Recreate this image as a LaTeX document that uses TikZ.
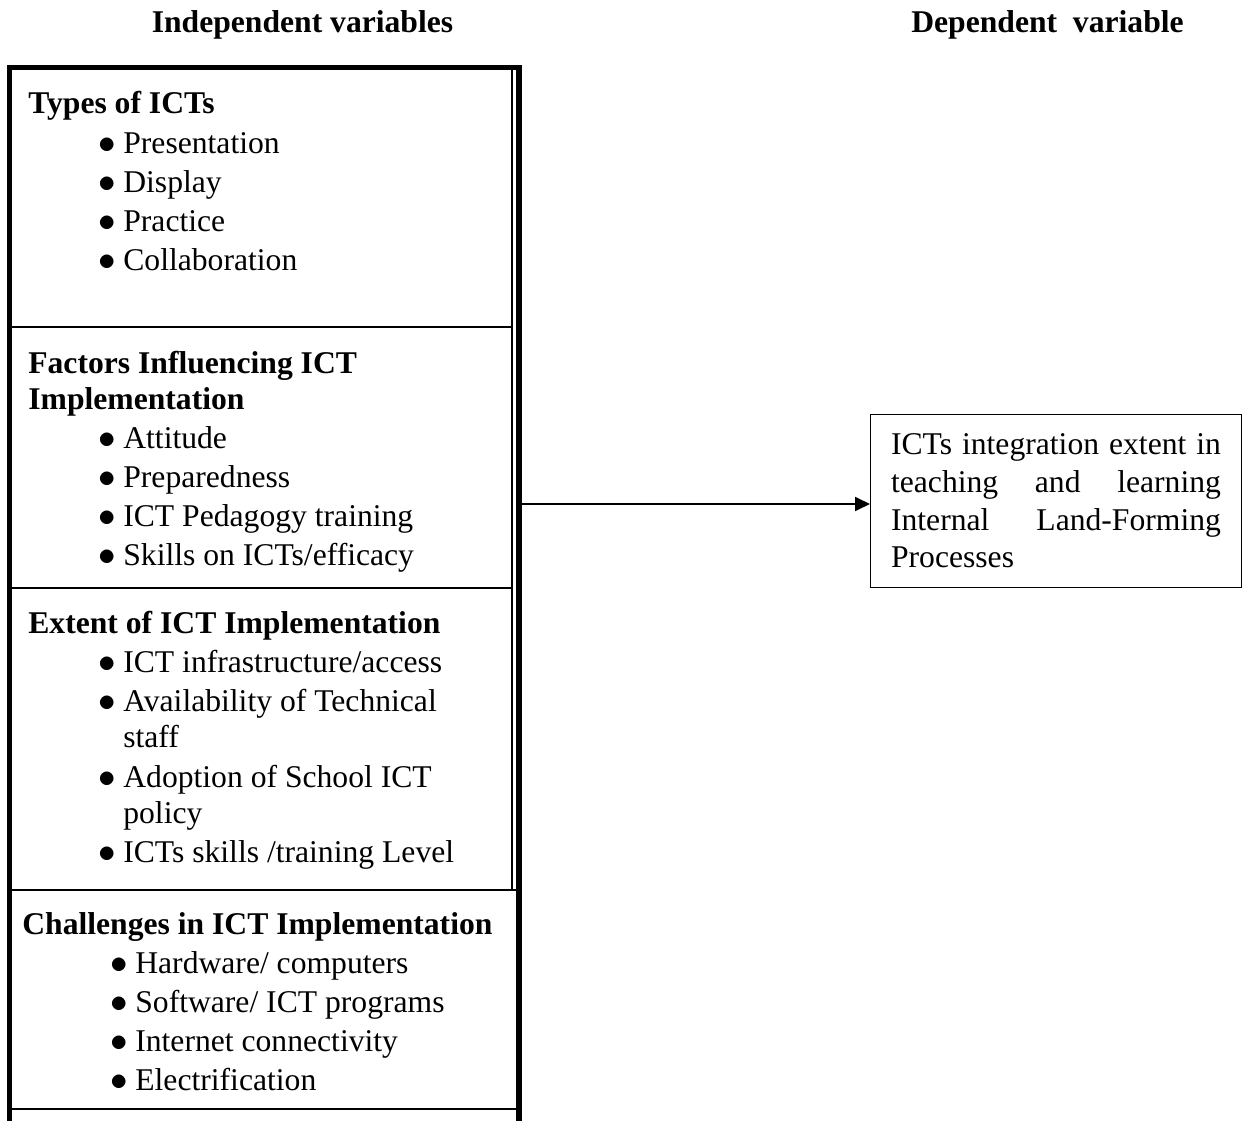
\documentclass[tikz,border=0pt]{standalone}
\usepackage{fontspec}
\setmainfont{Liberation Serif}
\usepackage{tikz}
\usetikzlibrary{arrows.meta}
\tikzset{
  font={\fontsize{18pt}{21.5pt}\selectfont}}
\newcommand{\itmdot}{\llap{\scalebox{1.15}{$\bullet$}\hspace{4pt}}}

\begin{document}
\begin{tikzpicture}[scale=0.2]
\tikzstyle{every node}+=[inner sep=0pt]
\tikzstyle{txt}=[anchor=base west]
\tikzstyle{hd}=[anchor=base west, font={\fontsize{18pt}{21.5pt}\selectfont\bfseries}]
\useasboundingbox (0,0) rectangle (124.3,-112);
\draw (30.25,-3.3) node [hd, anchor=base] (indeptitle) {Independent variables};
\draw (104.75,-3.3) node [hd, anchor=base] (deptitle) {Dependent\ \ variable};
\draw [black, line width=3pt] (0.95,-114) -- (0.95,-6.75) -- (51.9,-6.75) -- (51.9,-114);
\draw [black, line width=0.9pt] (51.2,-6.75) -- (51.2,-89);
\draw [black, line width=1.2pt] (0.95,-32.7) -- (51.2,-32.7);
\draw [black, line width=1.2pt] (0.95,-58.8) -- (51.2,-58.8);
\draw [black, line width=1.2pt] (0.95,-89) -- (51.9,-89);
\draw [black, line width=1.2pt] (0.95,-110.9) -- (51.9,-110.9);
\draw (2.8,-11.3) node [hd] (typeshd) {Types of ICTs};
\draw (12.3,-15.3) node [txt] (present) {\itmdot Presentation};
\draw (12.3,-19.2) node [txt] (display) {\itmdot Display};
\draw (12.3,-23.1) node [txt] (practice) {\itmdot Practice};
\draw (12.3,-27.0) node [txt] (collab) {\itmdot Collaboration};
\draw (2.8,-37.3) node [hd] (factorshd) {Factors Influencing ICT};
\draw (2.8,-40.9) node [hd] (factorshdb) {Implementation};
\draw (12.3,-44.8) node [txt] (attitude) {\itmdot Attitude};
\draw (12.3,-48.7) node [txt] (prepared) {\itmdot Preparedness};
\draw (12.3,-52.6) node [txt] (pedagogy) {\itmdot ICT Pedagogy training};
\draw (12.3,-56.5) node [txt] (skills) {\itmdot Skills on ICTs/efficacy};
\draw (2.8,-63.3) node [hd] (extenthd) {Extent of ICT Implementation};
\draw (12.3,-67.2) node [txt] (infra) {\itmdot ICT infrastructure/access};
\draw (12.3,-71.1) node [txt] (avail) {\itmdot Availability of Technical};
\draw (12.3,-74.7) node [txt] (availb) {staff};
\draw (12.3,-78.7) node [txt] (adopt) {\itmdot Adoption of School ICT};
\draw (12.3,-82.3) node [txt] (adoptb) {policy};
\draw (12.3,-86.2) node [txt] (level) {\itmdot ICTs skills /training Level};
\draw (2.2,-93.4) node [hd] (challhd) {Challenges in ICT Implementation};
\draw (13.5,-97.3) node [txt] (hardware) {\itmdot Hardware/ computers};
\draw (13.5,-101.2) node [txt] (software) {\itmdot Software/ ICT programs};
\draw (13.5,-105.1) node [txt] (internet) {\itmdot Internet connectivity};
\draw (13.5,-109.0) node [txt] (electric) {\itmdot Electrification};
\draw (105.6,-50.1) node [draw, black, line width=0.85pt, minimum width=210.9pt, minimum height=98.6pt, text width=187.7pt, align=left] (dep) {\makebox[187.7pt][s]{ICTs\hfill integration\hfill extent\hfill in}\\ \makebox[187.7pt][s]{teaching\hfill and\hfill learning}\\ \makebox[187.7pt][s]{Internal\hfill Land-Forming}\\ Processes};
\coordinate (indepedge) at (52.2,-50.4);
\draw [black, line width=1.1pt, -{Triangle[length=8.5pt,width=8pt]}] (indepedge) -- (dep.west |- indepedge);
\end{tikzpicture}
\end{document}
